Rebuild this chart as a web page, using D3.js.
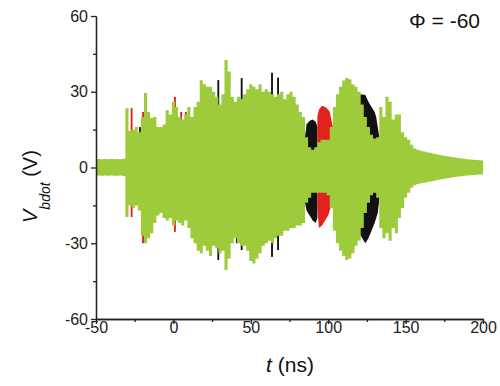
<!DOCTYPE html>
<html>
<head>
<meta charset="utf-8">
<script src="https://cdn.jsdelivr.net/npm/d3@7"></script>
<style>
  body { margin: 0; background: #fff; }
  svg { display: block; }
  .axis text { font-family: "Liberation Sans", Arial, sans-serif; font-size: 16px; fill: #222; }
  .axis path, .axis line { stroke: #222; stroke-width: 1.3; }
  .lbl { font-family: "Liberation Sans", Arial, sans-serif; fill: #111; }
</style>
</head>
<body>
<div id="chart"></div>
<script>
// chart size
var svgWidth = 500;
var svgHeight = 386;

// envelope of the green trace (V), one sample every 2 ns
var greenT = [-50, -48, -46, -44, -42, -40, -38, -36, -34, -32, -30, -28, -26, -24, -22, -20, -18, -16, -14, -12,
  -10, -8, -6, -4, -2, 0, 2, 4, 6, 8, 10, 12, 14, 16, 18, 20, 22, 24, 26, 28, 30, 32, 34, 36, 38, 40, 42, 44, 46, 48,
  50, 52, 54, 56, 58, 60, 62, 64, 66, 68, 70, 72, 74, 76, 78, 80, 82, 84, 86, 88, 90, 92, 94, 96, 98, 100,
  102, 104, 106, 108, 110, 112, 114, 116, 118, 120, 122, 124, 126, 128, 130, 132, 134, 136, 138, 140, 142, 144, 146, 148,
  150, 152, 154, 156, 158, 160, 162, 164, 166, 168, 170, 172, 174, 176, 178, 180, 182, 184, 186, 188, 190, 192, 194, 196, 198, 200];
var greenHi = [3.4, 3.4, 3.3, 3.4, 3.3, 3.4, 3.3, 3.4, 3.3, 3.5, 23.5, 14.5, 15, 16, 14, 20, 29.5, 22, 19.6, 20,
  16, 16, 17, 22.7, 21, 26, 24, 20, 19, 21, 24, 20, 24, 26, 34.6, 33, 32, 32, 30, 28, 25, 29, 42.6, 38, 28, 26, 28, 27, 29, 31,
  33, 32, 31, 33, 30, 31, 30, 29, 28, 29, 30, 27, 29, 30, 28, 25, 22, 20, 12, 8, 7, 8, 10, 11, 11, 11,
  16, 24, 29, 32, 34.5, 35.4, 35, 33, 32, 30, 25, 20, 16, 13, 11.5, 12, 24, 20, 28, 26, 19, 21, 21, 14,
  12, 11, 9, 7.5, 7, 6.6, 6.3, 6, 5.8, 5.5, 5.2, 5, 4.8, 4.6, 4.4, 4.2, 4, 3.8, 3.6, 3.5, 3.3, 3.2, 3.1, 3, 2.9, 2.8];
var greenLo = [-3.2, -3.2, -3.3, -3.2, -3.3, -3.2, -3.3, -3.3, -3.2, -3.4, -19.6, -15, -16, -15, -17, -27, -30, -28, -26, -22,
  -19, -18, -20, -21, -20, -23, -21, -22, -23, -21, -24, -28, -30, -33, -34, -31, -33, -35, -31, -32, -34, -33, -40.6, -36, -30, -28, -30, -31, -31, -33,
  -37, -38, -36, -34, -31, -30, -29, -30, -28, -27, -27, -25, -25, -24, -24, -23, -23, -22, -14, -12, -10, -10, -10, -10, -10, -11,
  -16, -25, -30, -33, -35, -36.6, -36, -34, -31, -29, -24, -18, -14, -11, -10, -12, -24, -28, -26, -29, -24, -26, -20, -16,
  -12, -10, -8, -7, -6.5, -6.2, -6, -5.8, -5.5, -5.3, -5, -4.8, -4.6, -4.4, -4.2, -4, -3.8, -3.6, -3.5, -3.3, -3.2, -3.1, -3, -2.9, -2.8, -2.7];

// black trace: single spikes poking out of the green one
var blackSpikeT = [-21.6, 29, 41, 44.1, 51.4, 63.7, 67.6];
var blackSpikeHi = [16, 34.6, 20, 35.4, 30, 37.5, 35.6];
var blackSpikeLo = [-14, -36.6, -30, -32.7, -20, -35.4, -32.7];

// black trace: the two broad lobes
var blackLobe1T = [85, 86, 88, 90, 92, 93];
var blackLobe1Hi = [12, 17, 18.5, 19, 18, 16];
var blackLobe1Lo = [-14, -17, -19, -21, -22, -20];
var blackLobe2T = [120, 121, 124, 126, 128, 130, 131, 132, 133];
var blackLobe2Hi = [28, 29, 28.7, 26, 24, 22, 20, 16, 12];
var blackLobe2Lo = [-26, -27, -30, -28, -25, -22, -20, -18, -13];

// red trace: spikes and lobe
var redSpikeT = [-27, -19.6, -10, -7.6, 1, 5, 8, 16, 38.5, 72.7];
var redSpikeHi = [23.5, 22, 16, 16, 28, 22, 22, 23.5, 24, 26.7];
var redSpikeLo = [-19.6, -30, -13.6, -14, -25.5, -19.6, -17, -20, -21, -22];
var redLobeT = [93, 94, 96, 98, 100, 101, 102, 103];
var redLobeHi = [20, 23, 24.5, 24, 23, 22, 19, 16];
var redLobeLo = [-16, -24, -23, -21, -19, -17, -15, -14];

// axis ticks
var xTicks = [-50, 0, 50, 100, 150, 200];
var xMinor = [-25, 25, 75, 125, 175];
var yTicks = [-60, -30, 0, 30, 60];
var yMinor = [-45, -15, 15, 45];

var svg = d3.select("#chart")
  .append("svg")
  .attr("width", svgWidth)
  .attr("height", svgHeight);

var x = d3.scaleLinear().domain([-50, 200]).range([96, 483]);
var y = d3.scaleLinear().domain([-60, 60]).range([319, 16]);

function rows(t, hi, lo) {
  return t.map((d, i) => ({ t: d, hi: hi[i], lo: lo[i] }));
}

var stepArea = d3.area()
  .x(d => x(d.t))
  .y0(d => y(d.lo))
  .y1(d => y(d.hi))
  .curve(d3.curveStep);

var smoothArea = d3.area()
  .x(d => x(d.t))
  .y0(d => y(d.lo))
  .y1(d => y(d.hi));

var spikeW = x(1.2) - x(0);

function drawSpikes(data, color) {
  svg.append("g").selectAll("rect")
    .data(data)
    .enter()
    .append("rect")
    .attr("x", d => x(d.t) - spikeW / 2)
    .attr("width", spikeW)
    .attr("y", d => y(d.hi))
    .attr("height", d => y(d.lo) - y(d.hi))
    .attr("fill", color);
}

// black first, then red, green on top
var black = "#111111";
var red = "#e2231d";
var green = "#9dcb3b";

drawSpikes(rows(blackSpikeT, blackSpikeHi, blackSpikeLo), black);
svg.append("path").datum(rows(blackLobe1T, blackLobe1Hi, blackLobe1Lo))
  .attr("d", smoothArea).attr("fill", black);
svg.append("path").datum(rows(blackLobe2T, blackLobe2Hi, blackLobe2Lo))
  .attr("d", smoothArea).attr("fill", black);

drawSpikes(rows(redSpikeT, redSpikeHi, redSpikeLo), red);
svg.append("path").datum(rows(redLobeT, redLobeHi, redLobeLo))
  .attr("d", smoothArea).attr("fill", red);

svg.append("path").datum(rows(greenT, greenHi, greenLo))
  .attr("d", stepArea).attr("fill", green);

// axes
var fmt = d => String(d);

svg.append("g").attr("class", "axis")
  .attr("transform", "translate(0,319)")
  .call(d3.axisBottom(x).tickValues(xMinor).tickSize(3).tickSizeOuter(0).tickFormat(""));
svg.append("g").attr("class", "axis")
  .attr("transform", "translate(0,319)")
  .call(d3.axisBottom(x).tickValues(xTicks).tickSize(5).tickSizeOuter(0).tickPadding(-2).tickFormat(fmt));

svg.append("g").attr("class", "axis")
  .attr("transform", "translate(96,0)")
  .call(d3.axisLeft(y).tickValues(yMinor).tickSize(3).tickSizeOuter(0).tickFormat(""));
svg.append("g").attr("class", "axis")
  .attr("transform", "translate(96,0)")
  .call(d3.axisLeft(y).tickValues(yTicks).tickSize(5).tickSizeOuter(0).tickPadding(3).tickFormat(fmt));

// axis titles
var xLabel = svg.append("text").attr("class", "lbl")
  .attr("x", 290).attr("y", 372)
  .attr("text-anchor", "middle")
  .style("font-size", "21px");
xLabel.append("tspan").style("font-style", "italic").text("t");
xLabel.append("tspan").text(" (ns)");

var yLabel = svg.append("text").attr("class", "lbl")
  .attr("transform", "translate(37,223) rotate(-90)")
  .style("font-size", "20px");
yLabel.append("tspan").style("font-style", "italic").text("V");
yLabel.append("tspan").style("font-style", "italic").style("font-size", "14px")
  .attr("dy", 13).text("bdot");
yLabel.append("tspan").attr("dy", -13).text(" (V)");

svg.append("text").attr("class", "lbl")
  .attr("x", 480).attr("y", 28)
  .attr("text-anchor", "end")
  .style("font-size", "21px")
  .text("Φ = -60");
</script>
</body>
</html>
